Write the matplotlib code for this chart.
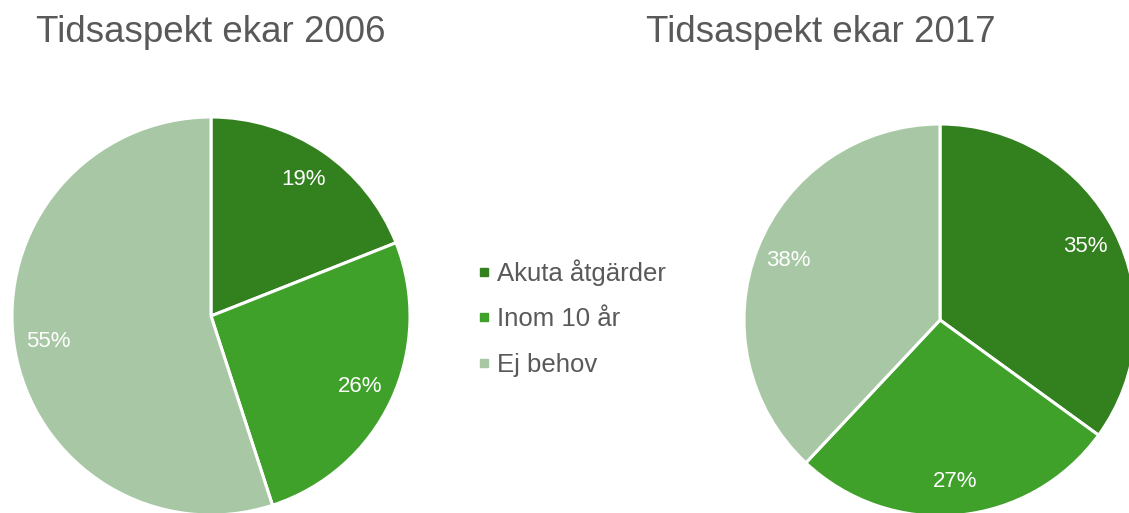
import matplotlib.pyplot as plt

plt.rcParams['font.family'] = ['Liberation Sans', 'DejaVu Sans']

categories = ['Akuta åtgärder', 'Inom 10 år', 'Ej behov']
values_2006 = [19, 26, 55]
values_2017 = [35, 27, 38]
colors = ['#33801f', '#3fa02a', '#a8c8a5']

W, H = 1129, 513
fig = plt.figure(figsize=(W / 100, H / 100), dpi=100)


def pie_axes(cx, cy, r):
    # axes box in pixel coords, converted to figure fractions
    return fig.add_axes([(cx - r) / W, (H - cy - r) / H, 2 * r / W, 2 * r / H])


def draw_pie(ax, vals):
    ax.pie(vals, colors=colors, startangle=90, counterclock=False,
           autopct='%1.0f%%', pctdistance=0.83, radius=1,
           wedgeprops=dict(edgecolor='white', linewidth=2.2),
           textprops=dict(color='white', fontsize=16))
    ax.set_xlim(-1, 1)
    ax.set_ylim(-1, 1)
    ax.axis('off')


ax1 = pie_axes(211, 316, 199)
draw_pie(ax1, values_2006)
ax2 = pie_axes(940, 320, 196)
draw_pie(ax2, values_2017)

fig.text(211 / W, 1 - 32 / H, 'Tidsaspekt ekar 2006', ha='center', va='center',
         fontsize=26.5, color='#595959')
fig.text(821 / W, 1 - 32 / H, 'Tidsaspekt ekar 2017', ha='center', va='center',
         fontsize=26.5, color='#595959')

handles = [plt.Line2D([], [], marker='s', linestyle='', markersize=6,
                      markerfacecolor=c, markeredgecolor=c) for c in colors]
fig.legend(handles, categories, loc='center left',
           bbox_to_anchor=(453 / W, 1 - 318 / H), frameon=False,
           fontsize=18.5, labelcolor='#595959', handletextpad=0.2,
           handlelength=0.6, labelspacing=0.83)

fig.savefig('out.png', dpi=100)
